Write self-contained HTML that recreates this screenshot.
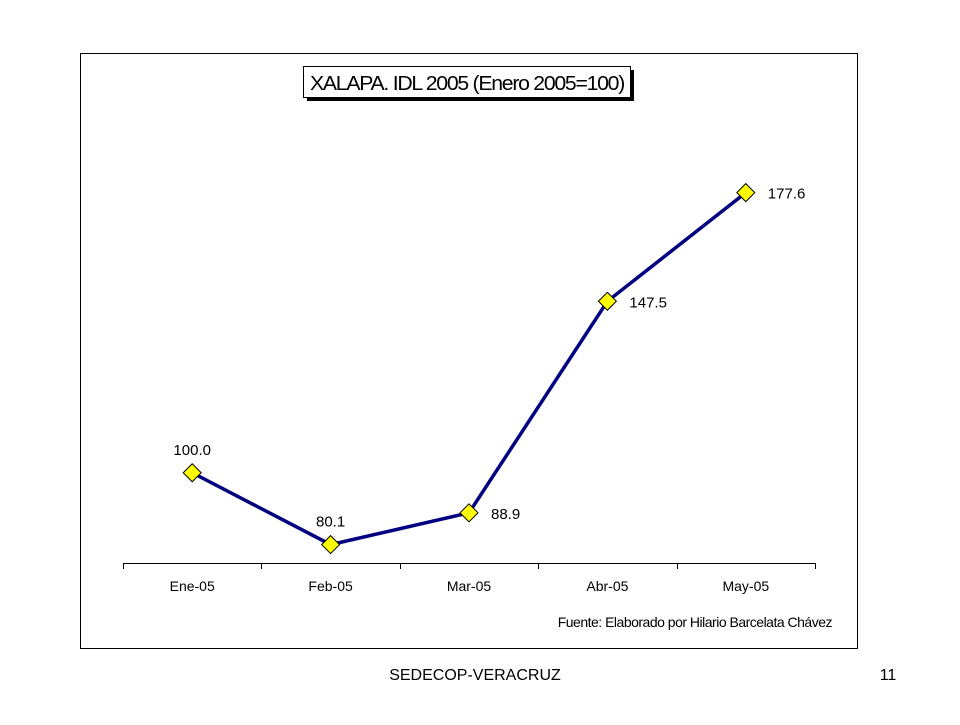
<!DOCTYPE html>
<html><head><meta charset="utf-8"><style>
body{margin:0;background:#fff;}
svg text{font-family:"Liberation Sans",sans-serif;}
</style></head><body>
<svg width="960" height="720" xmlns="http://www.w3.org/2000/svg">
<rect x="80.5" y="53.5" width="777" height="595" fill="#fff" stroke="#000"/>
<g>
<rect x="307" y="70" width="327" height="31" fill="#000"/>
<rect x="303.5" y="66.5" width="327" height="31" fill="#fff" stroke="#000"/>
<text x="467" y="90" font-size="20" text-anchor="middle" letter-spacing="-1.2" textLength="314" lengthAdjust="spacingAndGlyphs">XALAPA. IDL 2005 (Enero 2005=100)</text>
</g>
<g id="axis"></g>
<g id="plot"></g>
<text x="832" y="627" font-size="14" text-anchor="end" letter-spacing="-0.5">Fuente: Elaborado por Hilario Barcelata Chávez</text>
<text x="475" y="680" font-size="16" text-anchor="middle">SEDECOP-VERACRUZ</text>
<text x="888" y="680" font-size="16" text-anchor="middle">11</text>
</svg>
<script>
const categories=["Ene-05","Feb-05","Mar-05","Abr-05","May-05"];
const values=[100.0,80.1,88.9,147.5,177.6];
const labels=["100.0","80.1","88.9","147.5","177.6"];
const NS="http://www.w3.org/2000/svg";
const x0=123,x1=815,yBase=563,vMin=75,pxPer=3.61;
const band=(x1-x0)/categories.length;
const xs=i=>x0+band*(i+0.5);
const ys=v=>yBase-(v-vMin)*pxPer;
function mk(t,a,p){const e=document.createElementNS(NS,t);for(const k in a)e.setAttribute(k,a[k]);p.appendChild(e);return e;}
const ax=document.getElementById('axis');
mk('line',{x1:x0,y1:yBase+0.5,x2:x1,y2:yBase+0.5,stroke:'#000'},ax);
for(let i=0;i<=categories.length;i++){const x=Math.round(x0+band*i)+0.5;mk('line',{x1:x,y1:yBase,x2:x,y2:yBase+6,stroke:'#000'},ax);}
categories.forEach((c,i)=>{const t=mk('text',{x:xs(i),y:591,'font-size':14,'text-anchor':'middle'},ax);t.textContent=c;

});
const plot=document.getElementById('plot');
const line=mk('polyline',{points:values.map((v,i)=>xs(i)+','+ys(v)).join(' '),fill:'none',stroke:'#000080','stroke-width':3.5},plot);


values.forEach((v,i)=>{const x=xs(i),y=ys(v);
const d=mk('polygon',{points:`${x},${y-9} ${x+9},${y} ${x},${y+9} ${x-9},${y}`,fill:'#ffff00',stroke:'#000','stroke-width':1},plot);


const above=i<2;
const t=mk('text',above?{x:x,y:y-18,'font-size':15,'text-anchor':'middle'}:{x:x+22,y:y+6,'font-size':15},plot);
t.textContent=labels[i];

});
</script>
</body></html>
